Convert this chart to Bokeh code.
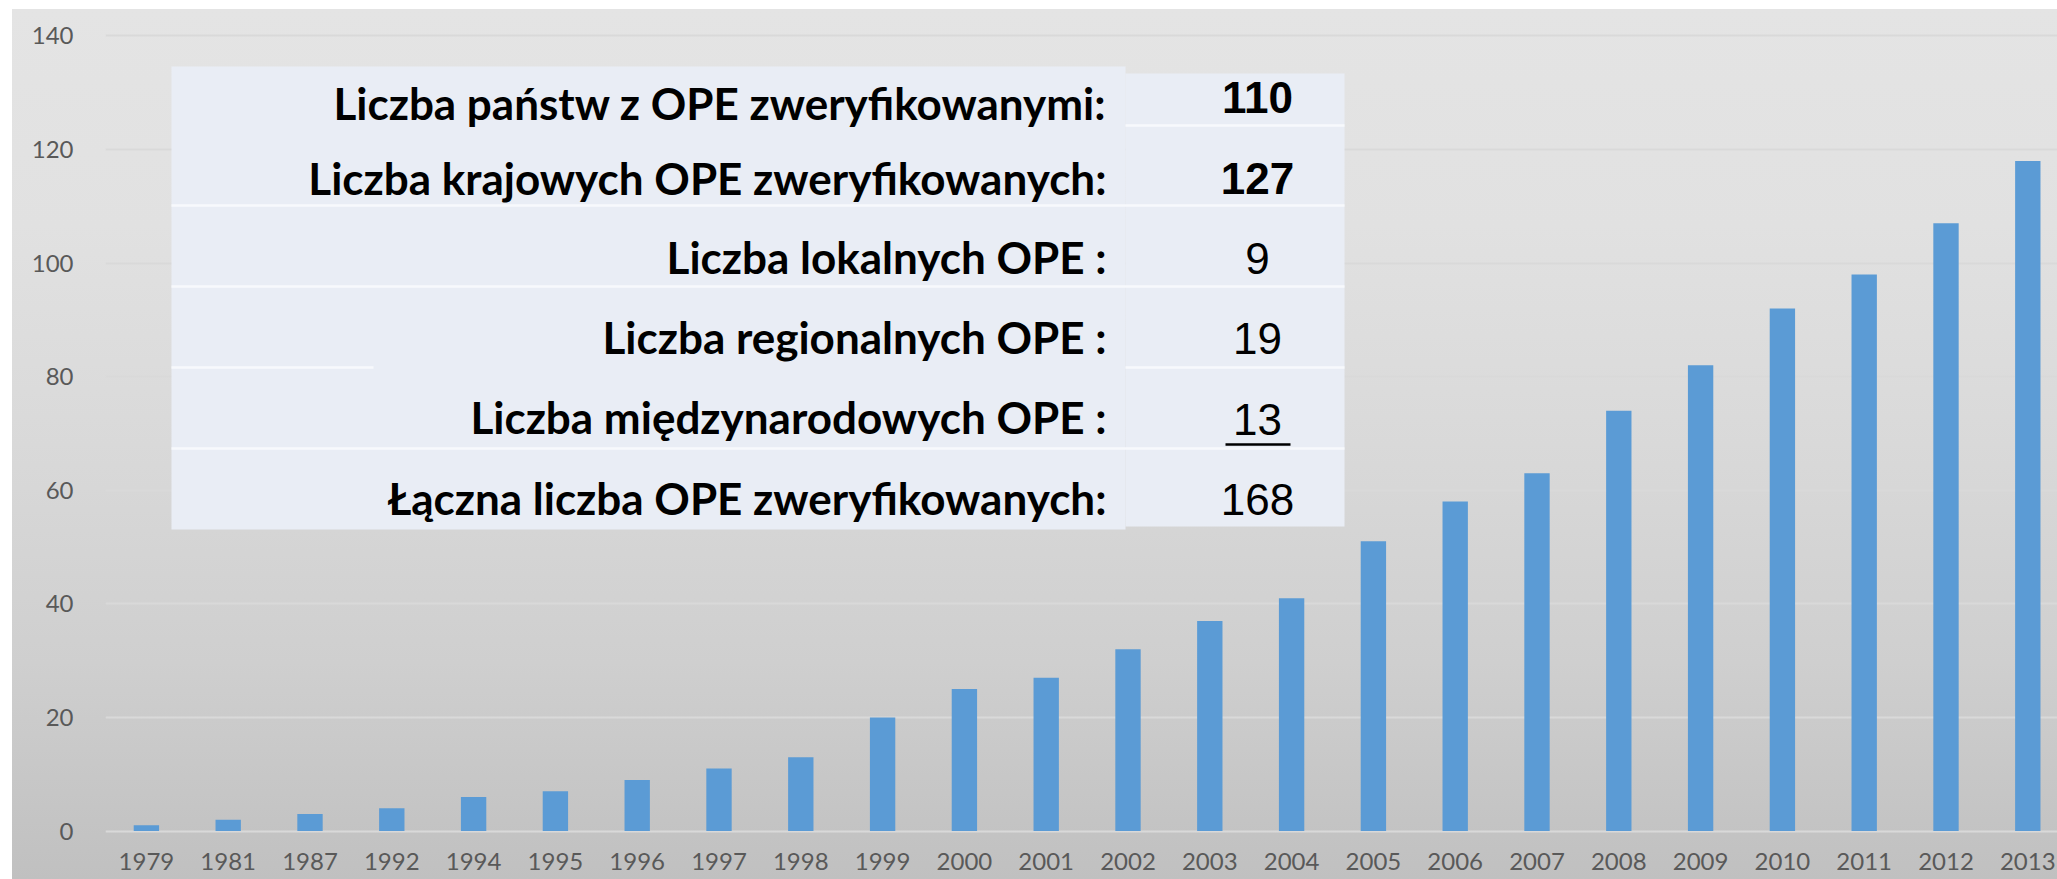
from bokeh.plotting import figure
from bokeh.models import FixedTicker, ColumnDataSource
from bokeh.core.properties import value
from bokeh.embed import file_html
from bokeh.resources import INLINE

# ---------------- data ----------------
years = ["1979", "1981", "1987", "1992", "1994", "1995", "1996", "1997", "1998",
         "1999", "2000", "2001", "2002", "2003", "2004", "2005", "2006", "2007",
         "2008", "2009", "2010", "2011", "2012", "2013"]
counts = [1, 2, 3, 4, 6, 7, 9, 11, 13, 20, 25, 27, 32, 37, 41, 51, 58, 63,
          74, 82, 92, 98, 107, 118]
y_ticks = [0, 20, 40, 60, 80, 100, 120, 140]

table_labels = ["Liczba państw z OPE zweryfikowanymi:",
                "Liczba krajowych OPE zweryfikowanych:",
                "Liczba lokalnych OPE :",
                "Liczba regionalnych OPE :",
                "Liczba międzynarodowych OPE :",
                "Łączna liczba OPE zweryfikowanych:"]
table_values = ["110", "127", "9", "19", "13", "168"]
table_bold = [True, True, False, False, False, False]

# ---------------- layout (page pixels; figure placed at 0,0) ----------------
W, H = 2057, 879
FRAME_L, FRAME_R, FRAME_T, FRAME_B = 105, 2057, 0, 840
CAT_PX = 81.8
Y0_PX = 830.5
UNIT_PX = 5.679


def dx(px):
    return -0.5 + (px - FRAME_L) / CAT_PX


def dy(py):
    return (Y0_PX - py) / UNIT_PX


p = figure(width=W, height=H, output_backend="svg", toolbar_location=None,
           x_range=(dx(FRAME_L), dx(FRAME_R)), y_range=(dy(FRAME_B), dy(FRAME_T)),
           min_border_left=FRAME_L, min_border_right=0, min_border_top=0,
           min_border_bottom=H - FRAME_B)
p.outline_line_color = None
p.background_fill_color = None
p.border_fill_color = None
# slide-like grey gradient behind the whole chart (white strip at top and left)
p.styles = {
    "background-image": (
        "linear-gradient(to right, #ffffff 0px, #ffffff 12px, rgba(255,255,255,0) 12px), "
        "linear-gradient(to bottom, #ffffff 0px, #ffffff 9px, #e4e4e4 9px, #e1e1e1 226px, "
        "#d9d9d9 444px, #cfcfcf 662px, #c0c0c0 879px)"
    ),
}

# bars
idx = list(range(len(years)))
src = ColumnDataSource(dict(x=idx, top=counts, year=years))
p.vbar(x="x", top="top", width=0.31, source=src, fill_color="#5b9bd5", line_color=None)

# axes
p.xaxis.ticker = FixedTicker(ticks=idx)
p.xaxis.major_label_overrides = {i: y for i, y in enumerate(years)}
p.yaxis.ticker = FixedTicker(ticks=y_ticks)
for ax in (p.xaxis, p.yaxis):
    ax.axis_line_color = None
    ax.major_tick_line_color = None
    ax.minor_tick_line_color = None
    ax.major_tick_out = 0
    ax.major_tick_in = 0
    ax.minor_tick_out = 0
    ax.major_label_text_font = "Lato"
    ax.major_label_text_font_size = "24px"
    ax.major_label_text_color = "#595959"
p.yaxis.major_label_standoff = 32
p.xaxis.major_label_standoff = 12

p.xgrid.grid_line_color = None
p.ygrid.ticker = FixedTicker(ticks=y_ticks)
p.ygrid.grid_line_color = "#d9d9d9"
p.ygrid.grid_line_width = 2

# ---------------- table overlay ----------------
TAB_FILL = "#e9edf5"
p.quad(left=[dx(171)], right=[dx(1125)], top=[dy(66)], bottom=[dy(529)],
       fill_color=TAB_FILL, line_color=None)
p.quad(left=[dx(1125)], right=[dx(1344)], top=[dy(73)], bottom=[dy(526)],
       fill_color=TAB_FILL, line_color=None)

sep_x0 = [dx(1125), dx(171), dx(171), dx(171), dx(1125), dx(171)]
sep_x1 = [dx(1344), dx(1344), dx(1344), dx(373), dx(1344), dx(1344)]
sep_y = [dy(125), dy(205), dy(286), dy(367), dy(367), dy(448)]
p.segment(x0=sep_x0, x1=sep_x1, y0=sep_y, y1=sep_y, line_color="#f7f9fc", line_width=2.5)

label_cy = [102, 177, 256, 336, 416, 497]
value_cy = [97, 178, 258, 338, 419, 499]
p.text(x=[dx(1106)] * len(table_labels), y=[dy(v) for v in label_cy], text=table_labels,
       text_font=value("Lato"), text_font_style="bold", text_font_size="44px",
       text_color="#000000", text_align="right", text_baseline="middle")

bold_i = [i for i, b in enumerate(table_bold) if b]
norm_i = [i for i, b in enumerate(table_bold) if not b]
p.text(x=[dx(1257)] * len(bold_i), y=[dy(value_cy[i]) for i in bold_i],
       text=[table_values[i] for i in bold_i],
       text_font=value("Liberation Sans"), text_font_style="bold", text_font_size="44px",
       text_color="#000000", text_align="center", text_baseline="middle")
p.text(x=[dx(1257)] * len(norm_i), y=[dy(value_cy[i]) for i in norm_i],
       text=[table_values[i] for i in norm_i],
       text_font=value("Liberation Sans"), text_font_size="44px",
       text_color="#000000", text_align="center", text_baseline="middle")
# underline under the summand
p.segment(x0=[dx(1225)], x1=[dx(1290)], y0=[dy(444)], y1=[dy(444)],
          line_color="#000000", line_width=2.5)

open("out.html", "w").write(file_html(p, INLINE))
